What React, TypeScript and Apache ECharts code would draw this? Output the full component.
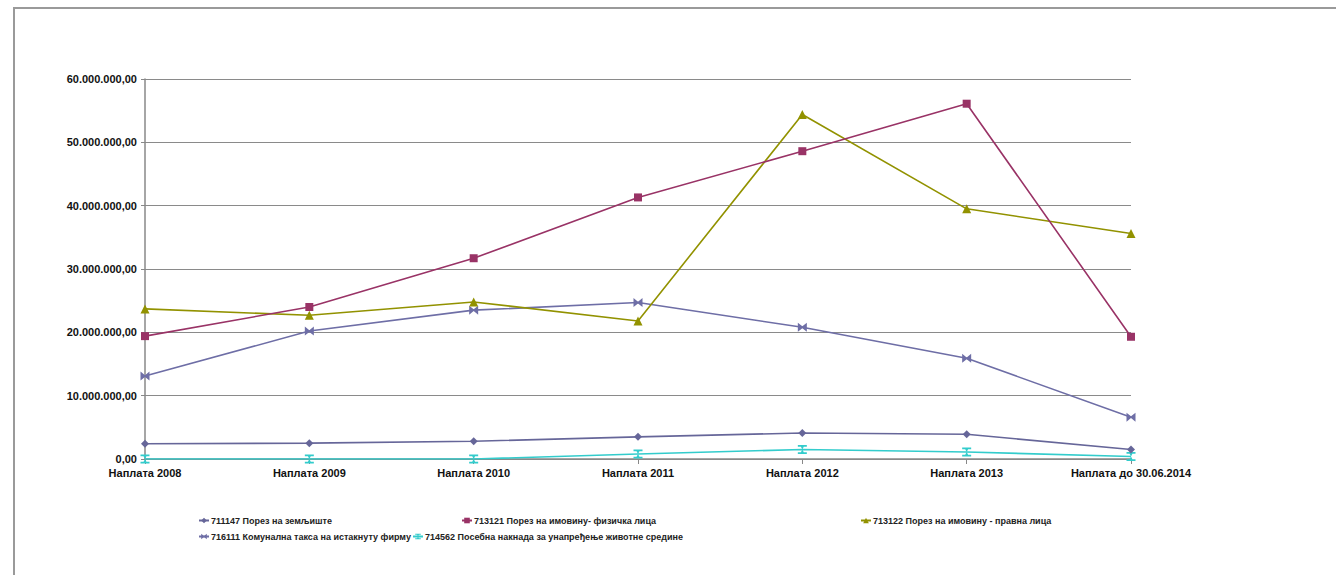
import React, { useEffect, useRef } from "react";
import * as echarts from "echarts";

const categories = [
  "Наплата 2008",
  "Наплата 2009",
  "Наплата 2010",
  "Наплата 2011",
  "Наплата 2012",
  "Наплата 2013",
  "Наплата до 30.06.2014",
];

const seriesNames = [
  "711147 Порез на земљиште",
  "713121 Порез на имовину- физичка лица",
  "713122 Порез на имовину - правна лица",
  "716111 Комунална такса на истакнуту фирму",
  "714562 Посебна накнада за унапређење животне средине",
];

const s711147 = [2400000, 2500000, 2800000, 3500000, 4100000, 3900000, 1500000];
const s713121 = [19400000, 24000000, 31700000, 41300000, 48600000, 56100000, 19300000];
const s713122 = [23700000, 22700000, 24800000, 21800000, 54400000, 39500000, 35600000];
const s716111 = [13100000, 20200000, 23500000, 24700000, 20800000, 15900000, 6600000];
const s714562 = [0, 0, 0, 800000, 1500000, 1100000, 400000];

const yTicks = { min: 0, max: 60000000, interval: 10000000 };

const colors = ["#666699", "#993366", "#929200", "#6E6EA6", "#33CCCC"];

const bowtie = "path://M0,0L5,4L10,0L10,10L5,6L0,10Z";
const starMark = "path://M0,0H10V2H6.6L5,5L6.6,8H10V10H0V8H3.4L5,5L3.4,2H0Z";

const symbols = ["diamond", "rect", "triangle", bowtie, starMark];
const symbolSizes = [8, 8, 9, 9, 9];

function fmt(v: number): string {
  const s = Math.round(v).toString().replace(/\B(?=(\d{3})+(?!\d))/g, ".");
  return s + ",00";
}

const FONT = "'Liberation Sans', Arial, sans-serif";

export default function App() {
  const ref = useRef<HTMLDivElement>(null);
  useEffect(() => {
    if (!ref.current) return;
    const chart = echarts.init(ref.current, undefined, { renderer: "svg" });
    const data = [s711147, s713121, s713122, s716111, s714562];
    const legendPos = [
      { left: 198, top: 516 },
      { left: 461, top: 516 },
      { left: 860, top: 516 },
      { left: 198, top: 532 },
      { left: 412, top: 532 },
    ];
    chart.setOption({
      animation: false,
      backgroundColor: "#ffffff",
      textStyle: { fontFamily: FONT },
      graphic: [
        {
          type: "rect",
          shape: { x: 14, y: 8, width: 1400, height: 700 },
          style: { fill: "none", stroke: "#9a9a9a", lineWidth: 2 },
          silent: true,
        },
      ],
      grid: { left: 145, right: 205, top: 79, bottom: 116, containLabel: false },
      legend: seriesNames.map((n, i) => ({
        data: [n],
        left: legendPos[i].left,
        top: legendPos[i].top,
        orient: "horizontal",
        itemWidth: 10,
        itemHeight: 7,
        itemGap: 2,
        padding: 0,
        selectedMode: false,
        textStyle: {
          fontFamily: FONT,
          fontSize: 9,
          fontWeight: "bold",
          color: "#222",
          padding: [0, 0, 0, -3],
        },
      })),
      xAxis: {
        type: "category",
        data: categories,
        boundaryGap: false,
        axisLine: { lineStyle: { color: "#888", width: 1.5 } },
        axisTick: { show: true, length: 5, lineStyle: { color: "#888" } },
        axisLabel: {
          fontFamily: FONT,
          fontSize: 11,
          fontWeight: "bold",
          color: "#111",
          margin: 8,
          interval: 0,
        },
        splitLine: { show: false },
      },
      yAxis: {
        type: "value",
        min: yTicks.min,
        max: yTicks.max,
        interval: yTicks.interval,
        axisLine: { show: true, lineStyle: { color: "#888", width: 1.5 } },
        axisTick: { show: true, length: 4, lineStyle: { color: "#888" } },
        axisLabel: {
          fontFamily: FONT,
          fontSize: 11,
          fontWeight: "bold",
          color: "#111",
          margin: 8,
          formatter: (v: number) => fmt(v),
        },
        splitLine: { show: true, lineStyle: { color: "#8a8a8a", width: 1 } },
      },
      series: seriesNames.map((n, i) => ({
        name: n,
        type: "line",
        data: data[i],
        symbol: symbols[i],
        symbolSize: symbolSizes[i],
        showSymbol: true,
        color: colors[i],
        lineStyle: { color: colors[i], width: 1.6 },
        itemStyle: { color: colors[i] },
        z: 10 - i,
      })),
    });
    return () => chart.dispose();
  }, []);
  return (
    <div
      ref={ref}
      style={{ position: "fixed", left: 0, top: 0, width: 1336, height: 575 }}
    />
  );
}
